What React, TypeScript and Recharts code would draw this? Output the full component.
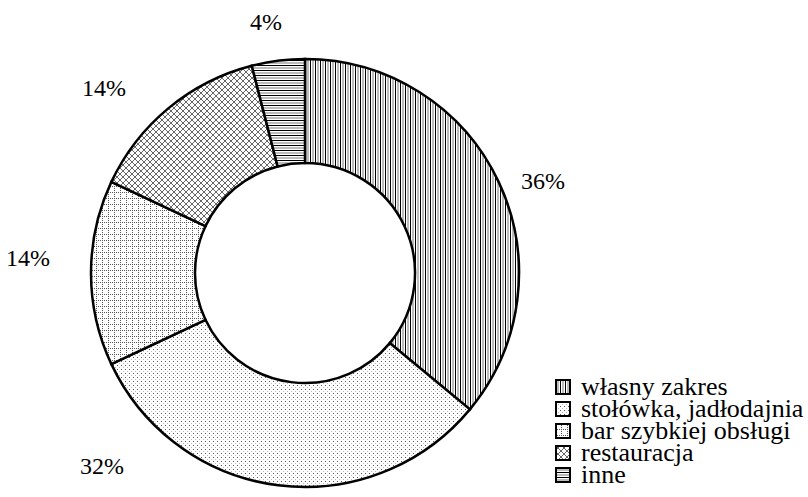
import { PieChart, Pie, Cell } from 'recharts';

const categories = ['własny zakres', 'stołówka, jadłodajnia', 'bar szybkiej obsługi', 'restauracja', 'inne'];
const shares = [36, 32, 14, 14, 4];
const shareLabels = ['36%', '32%', '14%', '14%', '4%'];

const data = categories.map((name, i) => ({ name, value: shares[i] }));

const patternIds = ['pVert', 'pDots', 'pGrid', 'pCross', 'pHoriz'];
// labels were placed by hand in the original, offsets from the pie centre
const labelOffsets = [
  [238, -92],
  [-203, 193],
  [-277, -15],
  [-201, -185],
  [-39, -251],
];

const font = 'Liberation Serif';

const renderLabel = (props: any) => {
  const { cx, cy, index } = props;
  const [dx, dy] = labelOffsets[index];
  return (
    <text
      x={cx + dx}
      y={cy + dy}
      textAnchor="middle"
      dominantBaseline="central"
      fontSize={24}
      fontFamily={font}
      fill="#000"
    >
      {shareLabels[index]}
    </text>
  );
};

const App = () => {
  return (
    <div style={{ position: 'absolute', left: 0, top: 0, width: 808, height: 497, background: '#fff' }}>
      <PieChart width={808} height={497} margin={{ top: 0, right: 0, bottom: 0, left: 0 }}>
        <defs>
          <pattern id="pVert" width="10" height="10" patternUnits="userSpaceOnUse">
            <rect width="10" height="10" fill="#fff" />
            <path d="M0.5,0V10M5.5,0V10" stroke="#000" strokeWidth="1" />
            <path d="M3,0V10M8,0V10" stroke="#777" strokeWidth="1" />
          </pattern>
          <pattern id="pHoriz" width="10" height="10" patternUnits="userSpaceOnUse">
            <rect width="10" height="10" fill="#fff" />
            <path d="M0,0.5H10M0,5.5H10" stroke="#000" strokeWidth="1" />
            <path d="M0,3H10M0,8H10" stroke="#777" strokeWidth="1" />
          </pattern>
          <pattern id="pDots" width="8" height="8" patternUnits="userSpaceOnUse">
            <rect width="8" height="8" fill="#fff" />
            <path d="M1,1h1v1h-1zM5,1h1v1h-1zM1,5h1v1h-1zM5,5h1v1h-1z" fill="#555" />
            <path d="M3,3h1v1h-1zM7,3h1v1h-1zM3,7h1v1h-1zM7,7h1v1h-1z" fill="#bbb" />
          </pattern>
          <pattern id="pGrid" width="12" height="12" patternUnits="userSpaceOnUse">
            <rect width="12" height="12" fill="#fff" />
            <path d="M0,0.5H12M0,6.5H12M0.5,0V12M6.5,0V12" stroke="#555" strokeWidth="1" strokeDasharray="1 1" />
          </pattern>
          <pattern id="pCross" width="12" height="12" patternUnits="userSpaceOnUse">
            <rect width="12" height="12" fill="#fff" />
            <path d="M0,0L12,12M6,0L12,6M0,6L6,12M12,0L0,12M6,0L0,6M12,6L6,12" stroke="#555" strokeWidth="0.9" />
          </pattern>
        </defs>
        <Pie
          data={data}
          dataKey="value"
          nameKey="name"
          cx={305}
          cy={273}
          innerRadius={110}
          outerRadius={214}
          startAngle={90}
          endAngle={-270}
          stroke="#000"
          strokeWidth={2.5}
          label={renderLabel}
          labelLine={false}
          isAnimationActive={false}
        >
          {data.map((d, i) => (
            <Cell key={d.name} fill={`url(#${patternIds[i]})`} />
          ))}
        </Pie>
      </PieChart>
      <div style={{ position: 'absolute', left: 555, top: 376, fontFamily: font, fontSize: 26, lineHeight: '22px', color: '#000' }}>
        {categories.map((c, i) => (
          <div key={c} style={{ display: 'flex', alignItems: 'center', whiteSpace: 'nowrap', height: 22, fontFamily: font }}>
            <svg width={26} height={16} style={{ flex: 'none' }}>
              <rect x={1} y={1} width={14} height={14} fill={`url(#${patternIds[i]})`} stroke="#000" strokeWidth={2} />
            </svg>
            <span style={{ fontFamily: font }}>{c}</span>
          </div>
        ))}
      </div>
    </div>
  );
};

export default App;
